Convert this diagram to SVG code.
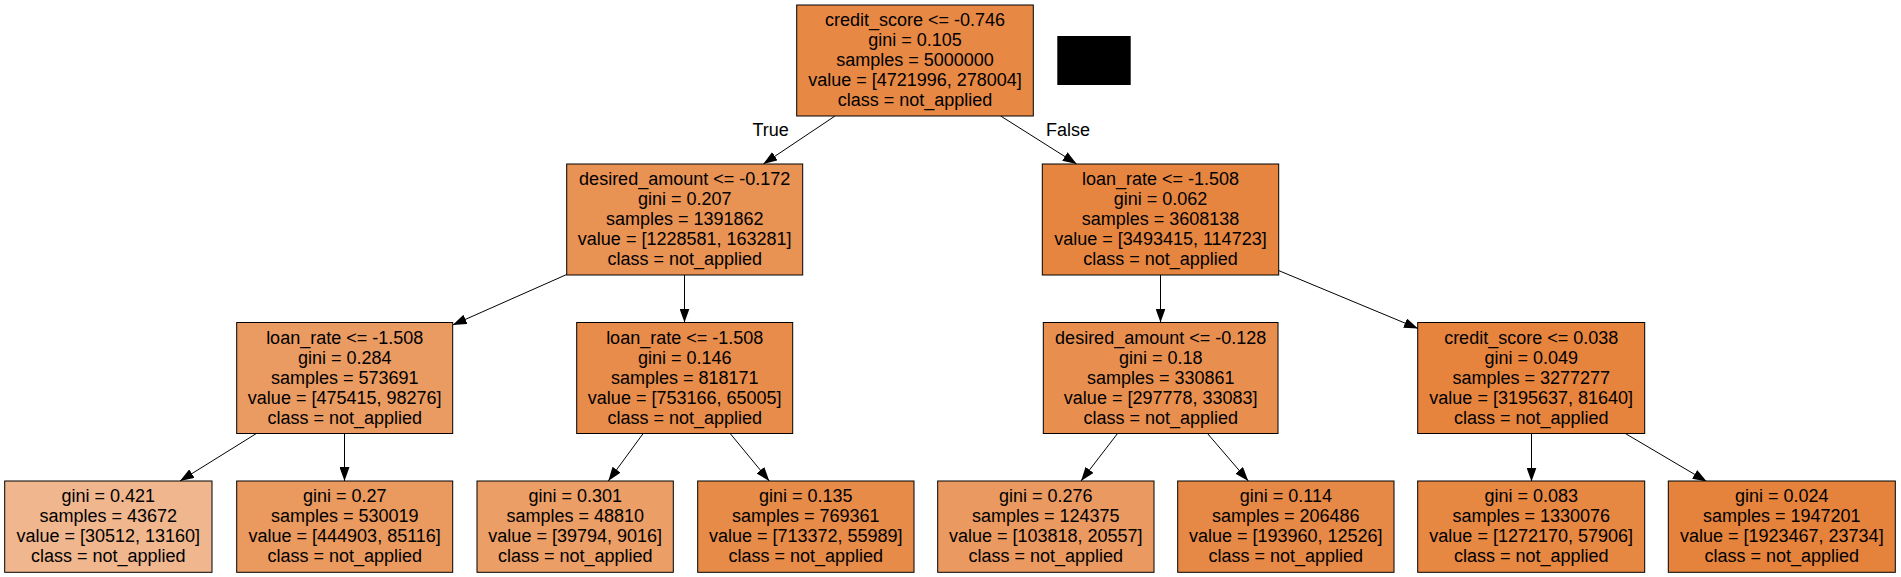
<svg xmlns="http://www.w3.org/2000/svg" width="1901" height="577" viewBox="0 0 1901 577">
<defs>
<style>
.box{stroke:#000;stroke-width:1}
text{font-family:"Liberation Sans",Arial,Helvetica,sans-serif;font-size:18px;fill:#000;text-anchor:middle}
.edge{stroke:#000;stroke-width:1;fill:none;marker-end:url(#arr)}
</style>
<marker id="arr" markerUnits="userSpaceOnUse" markerWidth="14" markerHeight="10" refX="14" refY="5" orient="auto">
<path d="M0,0 L14,5 L0,10 z" fill="#000"/>
</marker>
</defs>
<rect width="1901" height="577" fill="#fff"/>
<g id="connectors">
<line class="edge" x1="835" y1="116" x2="763.3" y2="164"/>
<line class="edge" x1="1000.7" y1="116" x2="1076.7" y2="164"/>
<line class="edge" x1="566.7" y1="274.5" x2="452.7" y2="325"/>
<line class="edge" x1="684.5" y1="275" x2="684.5" y2="322.5"/>
<line class="edge" x1="1160.5" y1="275" x2="1160.5" y2="322.5"/>
<line class="edge" x1="1278.5" y1="270.5" x2="1418" y2="328.5"/>
<line class="edge" x1="256.7" y1="433.3" x2="180" y2="481"/>
<line class="edge" x1="344.5" y1="433.3" x2="344.5" y2="481"/>
<line class="edge" x1="643.3" y1="433.3" x2="608.3" y2="481"/>
<line class="edge" x1="730" y1="433.3" x2="769.3" y2="481"/>
<line class="edge" x1="1117.7" y1="433.3" x2="1081" y2="481"/>
<line class="edge" x1="1207.3" y1="433.3" x2="1248.3" y2="481"/>
<line class="edge" x1="1531.5" y1="433.3" x2="1531.5" y2="481.5"/>
<line class="edge" x1="1625" y1="433.3" x2="1706.7" y2="481.5"/>
<text x="770.7" y="135.5">True</text>
<text x="1068" y="135.5">False</text>
</g>
<g id="legend">
<rect x="1057.3" y="36" width="73.4" height="49" fill="#000"/>
</g>
<g id="n0">
<rect class="box" x="796.7" y="5" width="236.6" height="111" fill="#e78845"/>
<text x="915" y="26">credit_score &lt;= -0.746</text>
<text x="915" y="46">gini = 0.105</text>
<text x="915" y="66">samples = 5000000</text>
<text x="915" y="86">value = [4721996, 278004]</text>
<text x="915" y="106">class = not_applied</text>
</g>
<g id="n1">
<rect class="box" x="566.7" y="164" width="236" height="111" fill="#e89253"/>
<text x="684.7" y="185">desired_amount &lt;= -0.172</text>
<text x="684.7" y="205">gini = 0.207</text>
<text x="684.7" y="225">samples = 1391862</text>
<text x="684.7" y="245">value = [1228581, 163281]</text>
<text x="684.7" y="265">class = not_applied</text>
</g>
<g id="n2">
<rect class="box" x="1042.3" y="164" width="236.4" height="111" fill="#e68540"/>
<text x="1160.5" y="185">loan_rate &lt;= -1.508</text>
<text x="1160.5" y="205">gini = 0.062</text>
<text x="1160.5" y="225">samples = 3608138</text>
<text x="1160.5" y="245">value = [3493415, 114723]</text>
<text x="1160.5" y="265">class = not_applied</text>
</g>
<g id="n3">
<rect class="box" x="236.7" y="322.5" width="216" height="111" fill="#ea9b62"/>
<text x="344.7" y="343.5">loan_rate &lt;= -1.508</text>
<text x="344.7" y="363.5">gini = 0.284</text>
<text x="344.7" y="383.5">samples = 573691</text>
<text x="344.7" y="403.5">value = [475415, 98276]</text>
<text x="344.7" y="423.5">class = not_applied</text>
</g>
<g id="n4">
<rect class="box" x="576.7" y="322.5" width="216" height="111" fill="#e78c4a"/>
<text x="684.7" y="343.5">loan_rate &lt;= -1.508</text>
<text x="684.7" y="363.5">gini = 0.146</text>
<text x="684.7" y="383.5">samples = 818171</text>
<text x="684.7" y="403.5">value = [753166, 65005]</text>
<text x="684.7" y="423.5">class = not_applied</text>
</g>
<g id="n5">
<rect class="box" x="1043.3" y="322.5" width="234.7" height="111" fill="#e88f4f"/>
<text x="1160.7" y="343.5">desired_amount &lt;= -0.128</text>
<text x="1160.7" y="363.5">gini = 0.18</text>
<text x="1160.7" y="383.5">samples = 330861</text>
<text x="1160.7" y="403.5">value = [297778, 33083]</text>
<text x="1160.7" y="423.5">class = not_applied</text>
</g>
<g id="n6">
<rect class="box" x="1417.7" y="322.5" width="227" height="111" fill="#e6843e"/>
<text x="1531.2" y="343.5">credit_score &lt;= 0.038</text>
<text x="1531.2" y="363.5">gini = 0.049</text>
<text x="1531.2" y="383.5">samples = 3277277</text>
<text x="1531.2" y="403.5">value = [3195637, 81640]</text>
<text x="1531.2" y="423.5">class = not_applied</text>
</g>
<g id="l1">
<rect class="box" x="4.7" y="481" width="207.3" height="91.3" fill="#f0b78e"/>
<text x="108.3" y="501.5">gini = 0.421</text>
<text x="108.3" y="521.5">samples = 43672</text>
<text x="108.3" y="541.5">value = [30512, 13160]</text>
<text x="108.3" y="561.5">class = not_applied</text>
</g>
<g id="l2">
<rect class="box" x="236.7" y="481" width="216" height="91.3" fill="#ea995f"/>
<text x="344.7" y="501.5">gini = 0.27</text>
<text x="344.7" y="521.5">samples = 530019</text>
<text x="344.7" y="541.5">value = [444903, 85116]</text>
<text x="344.7" y="561.5">class = not_applied</text>
</g>
<g id="l3">
<rect class="box" x="477" y="481" width="196.3" height="91.3" fill="#eb9e66"/>
<text x="575.2" y="501.5">gini = 0.301</text>
<text x="575.2" y="521.5">samples = 48810</text>
<text x="575.2" y="541.5">value = [39794, 9016]</text>
<text x="575.2" y="561.5">class = not_applied</text>
</g>
<g id="l4">
<rect class="box" x="697.7" y="481" width="216.3" height="91.3" fill="#e78b49"/>
<text x="805.8" y="501.5">gini = 0.135</text>
<text x="805.8" y="521.5">samples = 769361</text>
<text x="805.8" y="541.5">value = [713372, 55989]</text>
<text x="805.8" y="561.5">class = not_applied</text>
</g>
<g id="l5">
<rect class="box" x="937.7" y="481" width="216.3" height="91.3" fill="#ea9a60"/>
<text x="1045.8" y="501.5">gini = 0.276</text>
<text x="1045.8" y="521.5">samples = 124375</text>
<text x="1045.8" y="541.5">value = [103818, 20557]</text>
<text x="1045.8" y="561.5">class = not_applied</text>
</g>
<g id="l6">
<rect class="box" x="1177.7" y="481" width="216.3" height="91.3" fill="#e78946"/>
<text x="1285.8" y="501.5">gini = 0.114</text>
<text x="1285.8" y="521.5">samples = 206486</text>
<text x="1285.8" y="541.5">value = [193960, 12526]</text>
<text x="1285.8" y="561.5">class = not_applied</text>
</g>
<g id="l7">
<rect class="box" x="1417.7" y="481" width="227" height="91.3" fill="#e68742"/>
<text x="1531.2" y="501.5">gini = 0.083</text>
<text x="1531.2" y="521.5">samples = 1330076</text>
<text x="1531.2" y="541.5">value = [1272170, 57906]</text>
<text x="1531.2" y="561.5">class = not_applied</text>
</g>
<g id="l8">
<rect class="box" x="1668.3" y="481" width="227" height="91.3" fill="#e5833c"/>
<text x="1781.8" y="501.5">gini = 0.024</text>
<text x="1781.8" y="521.5">samples = 1947201</text>
<text x="1781.8" y="541.5">value = [1923467, 23734]</text>
<text x="1781.8" y="561.5">class = not_applied</text>
</g>
</svg>
